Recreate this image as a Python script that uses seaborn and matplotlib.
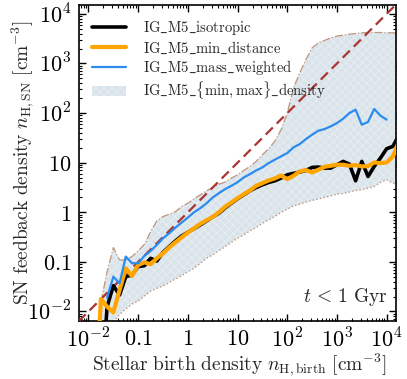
import numpy as np
import matplotlib
matplotlib.use('Agg')
import matplotlib.pyplot as plt
import seaborn as sns
from matplotlib.ticker import LogLocator, NullFormatter
from matplotlib.patches import Patch

# bin centres, log10 of stellar birth density
log_n_birth = [-1.875, -1.75, -1.625, -1.5, -1.375, -1.25, -1.125, -1.0, -0.875, -0.75,
               -0.625, -0.5, -0.375, -0.25, -0.125, 0.0, 0.125, 0.25, 0.375, 0.5,
               0.625, 0.75, 0.875, 1.0, 1.125, 1.25, 1.375, 1.5, 1.625, 1.75,
               1.875, 2.0, 2.125, 2.25, 2.375, 2.5, 2.625, 2.75, 2.875, 3.0,
               3.125, 3.25, 3.375, 3.5, 3.625, 3.75, 3.875, 4.0, 4.125, 4.25]

nan = np.nan
isotropic = [nan, 2e-4, 0.0125, 0.0331, 0.0215, 0.0503, 0.0544, 0.0801, 0.0839, 0.118,
             0.104, 0.156, 0.203, 0.264, 0.333, 0.396, 0.469, 0.557, 0.670, 0.807,
             0.957, 1.23, 1.52, 1.87, 2.25, 2.71, 3.16, 3.58, 3.99, 4.31,
             4.88, 5.70, 6.07, 6.46, 6.97, 8.02, 8.15, 7.77, 7.77, 9.08,
             10.6, 9.35, 4.31, 10.6, 5.27, 8.40, 12.4, 19.1, 21.3, 36.6]

min_distance = [1e-4, 0.0178, 0.0125, 0.00957, 0.0270, 0.0742, 0.0519, 0.0865, 0.098, 0.0893,
                0.118, 0.149, 0.194, 0.248, 0.313, 0.390, 0.477, 0.583, 0.691, 0.807,
                1.00, 1.29, 1.57, 1.92, 2.32, 2.75, 3.41, 3.87, 4.38, 4.81,
                5.52, 4.66, 5.44, 6.66, 7.08, 6.36, 7.19, 8.26, 8.65, 9.08,
                9.08, 8.65, 8.93, 8.40, 8.53, 10.1, 9.80, 10.1, 13.4, 26.9]

mass_weighted = [nan, nan, 0.0189, 0.0503, 0.0369, 0.128, 0.0936, 0.0936, 0.132, 0.166,
                 0.220, 0.299, 0.378, 0.492, 0.621, 0.783, 1.00, 1.21, 1.52, 1.99,
                 2.43, 2.93, 3.41, 4.05, 5.03, 5.88, 6.97, 8.02, 9.80, 11.5,
                 13.4, 15.6, 20.3, 23.7, 29.9, 36.6, 44.1, 47.6, 54.0, 63.0,
                 77.1, 99.8, 117, 58.3, 66.0, 121, 88.7, 73.6, nan, nan]

max_density = [nan, 0.0157, 0.0635, 0.194, 0.109, 0.109, 0.128, 0.166, 0.226, 0.408,
               0.670, 0.820, 0.914, 1.03, 1.31, 1.52, 1.87, 2.25, 2.71, 3.16,
               3.69, 4.05, 4.88, 5.70, 6.97, 8.40, 10.6, 14.5, 19.1, 26.9,
               46.2, 100, 321, 646, 1200, 2065, 2606, 2904, 3289, 3551,
               3718, 3896, 4020, 4148, 4211, 4211, 4211, 4148, 4148, 4083]

min_density = [nan, 1e-4, 0.001, 0.0062, 0.00873, 0.0112, 0.0141, 0.0162, 0.0205, 0.0258,
               0.0292, 0.0326, 0.0387, 0.0451, 0.0527, 0.0635, 0.0741, 0.0935, 0.118, 0.138,
               0.169, 0.203, 0.248, 0.299, 0.350, 0.421, 0.492, 0.601, 0.703, 0.820,
               1.00, 1.15, 1.35, 1.45, 1.60, 1.73, 1.84, 1.99, 2.14, 2.32,
               2.39, 2.55, 2.75, 2.84, 3.06, 3.31, 3.99, 4.52, 3.87, 3.58]

tick_vals = [1e-2, 0.1, 1, 10, 1e2, 1e3, 1e4]
tick_labels = [r'$10^{-2}$', r'$0.1$', r'$1$', r'$10$', r'$10^{2}$', r'$10^{3}$', r'$10^{4}$']

n_birth = 10 ** np.array(log_n_birth)
lims = (10 ** -2.2, 10 ** 4.18)

sns.set_style('ticks')
plt.rcParams.update({
    'mathtext.fontset': 'cm',
    'font.family': ['DejaVu Serif'],
    'xtick.direction': 'in', 'ytick.direction': 'in',
    'xtick.top': True, 'ytick.right': True,
    'xtick.major.size': 5, 'ytick.major.size': 5,
    'xtick.minor.size': 2.5, 'ytick.minor.size': 2.5,
    'xtick.major.width': 1.0, 'ytick.major.width': 1.0,
    'xtick.minor.width': 0.8, 'ytick.minor.width': 0.8,
    'axes.linewidth': 1.2,
    'axes.edgecolor': 'black',
    'xtick.color': 'black', 'ytick.color': 'black',
})

fig = plt.figure(figsize=(4.07, 3.79), dpi=100)
ax = fig.add_axes([0.193, 0.152, 0.779, 0.835])
ax.set_xscale('log')
ax.set_yscale('log')

band_face = '#d9e3ea'
band_hatch = '#e4ebf0'
edge_col = '#b8866a'

# min/max band
ok = ~np.isnan(np.array(max_density))
ax.fill_between(n_birth[ok], np.array(min_density)[ok], np.array(max_density)[ok],
                facecolor=band_face, edgecolor=band_hatch, hatch='xxxx', lw=0, zorder=1)
ax.plot(n_birth, max_density, ls='-.', color=edge_col, lw=0.9, alpha=0.85, zorder=2)
ax.plot(n_birth, min_density, ls=':', color=edge_col, lw=1.0, alpha=0.85, zorder=2)

# one-to-one line
ax.plot(lims, lims, color='#a83434', lw=1.6, dashes=(4.5, 2.5), zorder=3)

sns.lineplot(x=n_birth, y=isotropic, ax=ax, color='black', lw=2.6, estimator=None, zorder=4)
sns.lineplot(x=n_birth, y=min_distance, ax=ax, color='#ffa500', lw=3.0, estimator=None, zorder=5)
sns.lineplot(x=n_birth, y=mass_weighted, ax=ax, color='#2b8cf0', lw=1.6, estimator=None, zorder=6)

for axis in (ax.xaxis, ax.yaxis):
    axis.set_minor_locator(LogLocator(base=10, subs=np.arange(2, 10), numticks=20))
    axis.set_minor_formatter(NullFormatter())
ax.set_xticks(tick_vals, tick_labels)
ax.set_yticks(tick_vals, tick_labels)
ax.set_xlim(lims)
ax.set_ylim(lims)
ax.tick_params(which='major', labelsize=16, pad=5)

ax.set_xlabel(r'$\mathrm{Stellar\ birth\ density}\ n_{\mathrm{H,birth}}\ [\mathrm{cm}^{-3}]$',
              fontsize=14)
ax.set_ylabel(r'$\mathrm{SN\ feedback\ density}\ n_{\mathrm{H,SN}}\ [\mathrm{cm}^{-3}]$',
              fontsize=14)
ax.xaxis.set_label_coords(0.506, -0.095)
ax.yaxis.set_label_coords(-0.135, 0.5)

ax.text(0.975, 0.06, r'$t\,<\,1\ \mathrm{Gyr}$', transform=ax.transAxes,
        ha='right', va='baseline', fontsize=14)

handles = [
    plt.Line2D([], [], color='black', lw=2.6),
    plt.Line2D([], [], color='#ffa500', lw=3.0),
    plt.Line2D([], [], color='#2b8cf0', lw=1.6),
    Patch(facecolor=band_face, edgecolor=band_hatch, hatch='xxxx', lw=0),
]
labels = [r'$\mathrm{IG\_M5\_isotropic}$', r'$\mathrm{IG\_M5\_min\_distance}$',
          r'$\mathrm{IG\_M5\_mass\_weighted}$', r'$\mathrm{IG\_M5\_\{min,max\}\_density}$']
ax.legend(handles, labels, loc='upper left', frameon=False, fontsize=10.5,
          handlelength=2.3, labelspacing=0.18, borderaxespad=0.55, handletextpad=1.2)

fig.savefig('out.png', dpi=100)
